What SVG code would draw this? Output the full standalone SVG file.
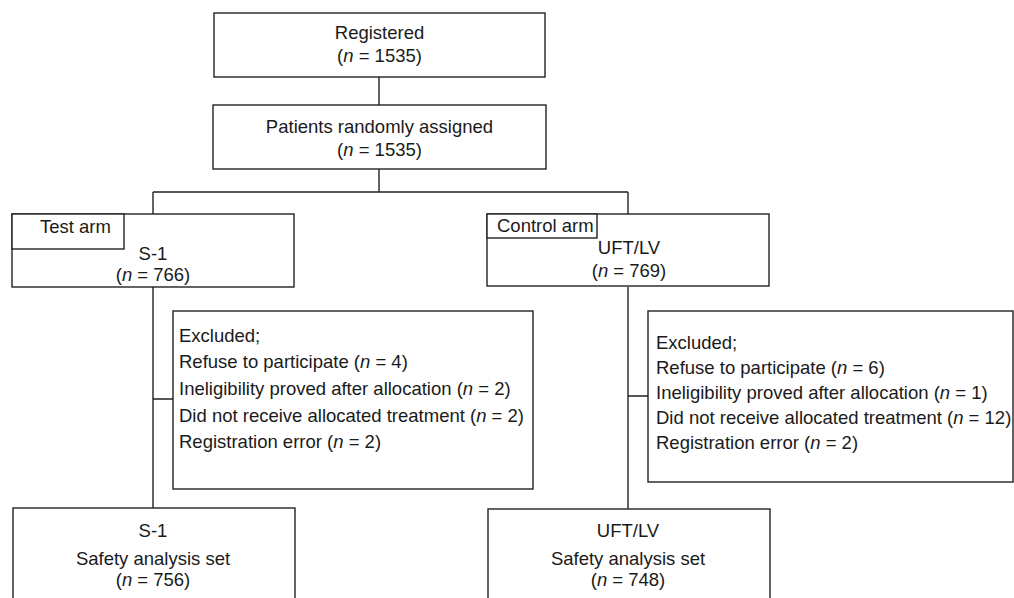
<svg xmlns="http://www.w3.org/2000/svg" width="1014" height="598" viewBox="0 0 1014 598">
<style>
.box{fill:#fff;stroke:#222;stroke-width:1.4}
.ln{fill:none;stroke:#222;stroke-width:1.4}
text{font-family:"Liberation Sans",Arial,sans-serif;font-size:18.5px;fill:#1a1a1a}
.c{text-anchor:middle}
.i{font-style:italic}
</style>
<rect width="1014" height="598" fill="#fff"/>
<g id="connectors">
<path class="ln" d="M379 77V105M379 169V192M153 192H628M153 192V214M628 192V214M153 287V508M628 287V509M153 399H173M628 396H648"/>
</g>
<g id="registered">
<rect class="box" x="214" y="13" width="331" height="64"/>
<text class="c" x="379.5" y="39">Registered</text>
<text class="c" x="379.5" y="62">(<tspan class="i">n</tspan> = 1535)</text>
</g>
<g id="randomized">
<rect class="box" x="213" y="105" width="333" height="64"/>
<text class="c" x="379.5" y="133">Patients randomly assigned</text>
<text class="c" x="379.5" y="156">(<tspan class="i">n</tspan> = 1535)</text>
</g>
<g id="test-arm">
<rect class="box" x="12" y="214" width="282" height="73"/>
<rect class="box" x="12" y="214" width="112" height="35"/>
<text x="40" y="233">Test arm</text>
<text class="c" x="153" y="260">S-1</text>
<text class="c" x="153" y="281">(<tspan class="i">n</tspan> = 766)</text>
</g>
<g id="control-arm">
<rect class="box" x="487" y="214" width="282" height="72"/>
<rect class="box" x="487" y="214" width="110" height="24"/>
<text x="497" y="232">Control arm</text>
<text class="c" x="629" y="254">UFT/LV</text>
<text class="c" x="629" y="277">(<tspan class="i">n</tspan> = 769)</text>
</g>
<g id="excluded-test">
<rect class="box" x="173" y="311" width="360" height="178"/>
<text x="179" y="342">Excluded;</text>
<text x="179" y="368">Refuse to participate (<tspan class="i">n</tspan> = 4)</text>
<text x="179" y="395">Ineligibility proved after allocation (<tspan class="i">n</tspan> = 2)</text>
<text x="179" y="422">Did not receive allocated treatment (<tspan class="i">n</tspan> = 2)</text>
<text x="179" y="448">Registration error (<tspan class="i">n</tspan> = 2)</text>
</g>
<g id="excluded-control">
<rect class="box" x="648" y="311" width="365" height="171"/>
<text x="656" y="349">Excluded;</text>
<text x="656" y="374">Refuse to participate (<tspan class="i">n</tspan> = 6)</text>
<text x="656" y="399">Ineligibility proved after allocation (<tspan class="i">n</tspan> = 1)</text>
<text x="656" y="424">Did not receive allocated treatment (<tspan class="i">n</tspan> = 12)</text>
<text x="656" y="449">Registration error (<tspan class="i">n</tspan> = 2)</text>
</g>
<g id="safety-test">
<rect class="box" x="13" y="508" width="282" height="100"/>
<text class="c" x="153" y="537">S-1</text>
<text class="c" x="153" y="565">Safety analysis set</text>
<text class="c" x="153" y="586">(<tspan class="i">n</tspan> = 756)</text>
</g>
<g id="safety-control">
<rect class="box" x="488" y="509" width="282" height="100"/>
<text class="c" x="628" y="537">UFT/LV</text>
<text class="c" x="628" y="565">Safety analysis set</text>
<text class="c" x="628" y="586">(<tspan class="i">n</tspan> = 748)</text>
</g>
</svg>
